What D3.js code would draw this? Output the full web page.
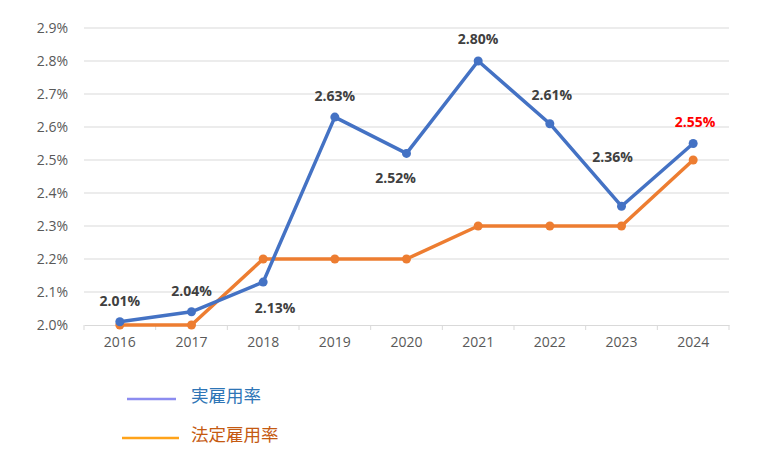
<!DOCTYPE html>
<html><head><meta charset="utf-8">
<script src="https://cdn.jsdelivr.net/npm/d3@7"></script>
<style>body{margin:0;background:#fff}svg{display:block}</style>
</head><body>
<svg id="c" width="760" height="470"></svg>
<script>
const years = ["2016","2017","2018","2019","2020","2021","2022","2023","2024"];
const actualRate = [2.01, 2.04, 2.13, 2.63, 2.52, 2.80, 2.61, 2.36, 2.55];
const legalRate = [2.0, 2.0, 2.2, 2.2, 2.2, 2.3, 2.3, 2.3, 2.5];
const yTicks = [2.0, 2.1, 2.2, 2.3, 2.4, 2.5, 2.6, 2.7, 2.8, 2.9];
const seriesNames = ["実雇用率", "法定雇用率"];

const svg = d3.select("#c");
const x = d3.scaleBand().domain(years).range([84, 729]);
const y = d3.scaleLinear().domain([2.0, 2.9]).range([325, 28]);
const cx = d => x(d) + x.bandwidth()/2;
const font = "'Open Sans', 'Liberation Sans', sans-serif";
// label offsets (styling only)
const labelOff = [[0,-21],[0,-21],[12,26],[0,-21],[-11,25],[0,-22],[2,-29],[-9,-49],[2,-21]];

// gridlines
svg.append("g").selectAll("line").data(yTicks.slice(1)).join("line")
  .attr("x1", 84).attr("x2", 729)
  .attr("y1", d => y(d)).attr("y2", d => y(d))
  .attr("stroke", "#d9d9d9").attr("stroke-width", 1);

// y labels
svg.append("g").selectAll("text").data(yTicks).join("text")
  .attr("x", 68).attr("y", d => y(d)).attr("dy", "0.35em")
  .attr("text-anchor", "end").attr("font-family", font).attr("font-size", 14)
  .attr("fill", "#595959").text(d => d.toFixed(1) + "%");

// x axis
const xAxis = d3.axisBottom(x).tickSize(0).tickPadding(12);
const gx = svg.append("g").attr("transform", "translate(0,325)").call(xAxis);
gx.select(".domain").attr("stroke", "#d9d9d9");
gx.selectAll("text").attr("font-family", font).attr("font-size", 14).attr("fill", "#595959");
const bounds = years.map(d => x(d)).concat([x(years[years.length-1]) + x.bandwidth()]);
svg.append("g").selectAll("line").data(bounds).join("line")
  .attr("x1", d => d).attr("x2", d => d).attr("y1", 325).attr("y2", 330)
  .attr("stroke", "#d9d9d9");

const line = d3.line().x((d,i) => cx(years[i])).y(d => y(d));

// legal rate
svg.append("path").datum(legalRate).attr("d", line)
  .attr("fill", "none").attr("stroke", "#ed7d31").attr("stroke-width", 3.5).attr("stroke-linejoin", "round");
svg.append("g").selectAll("circle").data(legalRate).join("circle")
  .attr("cx", (d,i) => cx(years[i])).attr("cy", d => y(d)).attr("r", 4.5).attr("fill", "#ed7d31");

// actual rate
svg.append("path").datum(actualRate).attr("d", line)
  .attr("fill", "none").attr("stroke", "#4472c4").attr("stroke-width", 3.5).attr("stroke-linejoin", "round");
svg.append("g").selectAll("circle").data(actualRate).join("circle")
  .attr("cx", (d,i) => cx(years[i])).attr("cy", d => y(d)).attr("r", 4.5).attr("fill", "#4472c4");

// data labels
svg.append("g").selectAll("text").data(actualRate).join("text")
  .attr("x", (d,i) => cx(years[i]) + labelOff[i][0])
  .attr("y", (d,i) => y(d) + labelOff[i][1])
  .attr("dy", "0.35em").attr("text-anchor", "middle")
  .attr("font-family", font).attr("font-size", 14).attr("font-weight", "bold")
  .attr("fill", (d,i) => i === actualRate.length-1 ? "#ff0000" : "#404040")
  .text(d => d.toFixed(2) + "%");

// legend
const legend = [
  {name: seriesNames[0], lc: "#8c8cf0", tc: "#2e75b6", x1: 127, x2: 176, y: 399, ty: 396},
  {name: seriesNames[1], lc: "#ffa31a", tc: "#c55a11", x1: 122, x2: 179, y: 438, ty: 435}
];
const lg = svg.append("g");
legend.forEach(l => {
  lg.append("line").attr("x1", l.x1).attr("x2", l.x2).attr("y1", l.y).attr("y2", l.y)
    .attr("stroke", l.lc).attr("stroke-width", 2.5);
  lg.append("text").attr("x", 191).attr("y", l.ty).attr("dy", "0.35em")
    .attr("font-family", "'Noto Sans CJK JP', sans-serif").attr("font-size", 17.5)
    .attr("fill", l.tc).text(l.name);
});
</script>
</body></html>
